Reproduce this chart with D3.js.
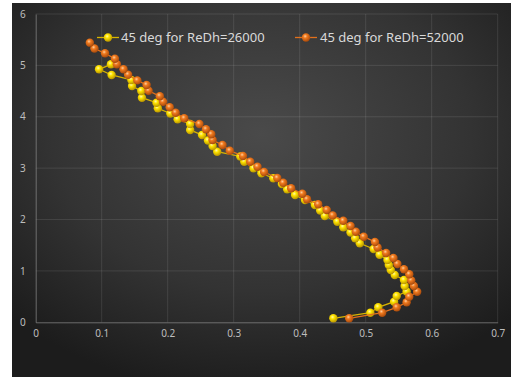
<!DOCTYPE html>
<html><head><meta charset="utf-8">
<script src="https://cdn.jsdelivr.net/npm/d3@7"></script>
<style>html,body{margin:0;padding:0;background:#fff;overflow:hidden}</style>
</head><body><svg id="c" width="511" height="377"></svg>
<script>
const seriesNames = ["45 deg for ReDh=26000", "45 deg for ReDh=52000"];
const xTicks = [0, 0.1, 0.2, 0.3, 0.4, 0.5, 0.6, 0.7];
const yTicks = [0, 1, 2, 3, 4, 5, 6];
const x26000 = [0.451,0.507,0.519,0.543,0.547,0.562,0.559,0.558,0.544,0.538,0.535,0.533,0.521,0.512,0.491,0.484,0.477,0.466,0.457,0.438,0.431,0.423,0.408,0.393,0.381,0.373,0.360,0.342,0.330,0.316,0.310,0.275,0.268,0.261,0.252,0.234,0.234,0.215,0.204,0.185,0.183,0.161,0.160,0.146,0.145,0.115,0.096,0.114];
const y26000 = [0.078,0.187,0.292,0.401,0.512,0.599,0.706,0.823,0.921,1.018,1.115,1.213,1.316,1.427,1.538,1.635,1.748,1.849,1.958,2.069,2.176,2.283,2.380,2.478,2.589,2.692,2.803,2.900,2.997,3.126,3.227,3.320,3.431,3.538,3.645,3.743,3.859,3.951,4.064,4.165,4.274,4.371,4.502,4.599,4.716,4.813,4.924,5.021];
const x52000 = [0.475,0.525,0.547,0.562,0.566,0.578,0.573,0.569,0.566,0.558,0.548,0.542,0.531,0.518,0.514,0.497,0.485,0.477,0.466,0.450,0.441,0.428,0.411,0.404,0.387,0.375,0.366,0.346,0.336,0.325,0.314,0.294,0.283,0.268,0.266,0.258,0.248,0.225,0.212,0.203,0.193,0.188,0.171,0.168,0.154,0.140,0.133,0.123,0.120,0.105,0.089,0.082];
const y52000 = [0.078,0.187,0.292,0.389,0.498,0.596,0.706,0.814,0.934,1.032,1.135,1.251,1.349,1.456,1.563,1.666,1.763,1.874,1.975,2.081,2.186,2.297,2.394,2.503,2.608,2.715,2.808,2.925,3.028,3.126,3.237,3.340,3.451,3.548,3.659,3.756,3.859,3.970,4.079,4.184,4.293,4.401,4.506,4.619,4.708,4.817,4.924,5.023,5.130,5.235,5.329,5.442];

const series = [
  {name: seriesNames[0], xs: x26000, ys: y26000, base: "#ffe400", dark: "#b89400", light: "#fff9b0", line: "#d8b400"},
  {name: seriesNames[1], xs: x52000, ys: y52000, base: "#f07a1e", dark: "#a84a0c", light: "#ffd0a0", line: "#e2701c"}
];

const svg = d3.select("#c");
const defs = svg.append("defs");
const bg = defs.append("radialGradient").attr("id","bg").attr("cx","50%").attr("cy","35%").attr("r","70%");
bg.append("stop").attr("offset","0%").attr("stop-color","#4a4a4a");
bg.append("stop").attr("offset","60%").attr("stop-color","#333333");
bg.append("stop").attr("offset","100%").attr("stop-color","#1c1c1c");
series.forEach((s,i)=>{
  const g = defs.append("radialGradient").attr("id","ball"+i).attr("cx","40%").attr("cy","35%").attr("r","65%");
  g.append("stop").attr("offset","0%").attr("stop-color",s.light);
  g.append("stop").attr("offset","35%").attr("stop-color",s.base);
  g.append("stop").attr("offset","100%").attr("stop-color",s.dark);
});

svg.append("rect").attr("x",12).attr("y",3).attr("width",499).attr("height",374).attr("fill","url(#bg)");

const x = d3.scaleLinear().domain([0,0.7]).range([35.7,497.7]);
const y = d3.scaleLinear().domain([0,6]).range([322.3,14]);

// grid
const grid = svg.append("g");
grid.selectAll(".gx").data(xTicks.slice(1)).join("line")
  .attr("x1",d=>x(d)).attr("x2",d=>x(d)).attr("y1",y(0)).attr("y2",y(6))
  .attr("stroke","#ffffff").attr("stroke-opacity",0.1).attr("stroke-width",1);
grid.selectAll(".gy").data(yTicks.slice(1)).join("line")
  .attr("x1",x(0)).attr("x2",x(0.7)).attr("y1",d=>y(d)).attr("y2",d=>y(d))
  .attr("stroke","#ffffff").attr("stroke-opacity",0.1).attr("stroke-width",1);

// axes
const xAxis = d3.axisBottom(x).tickValues(xTicks).tickFormat(d3.format("~g")).tickSize(0).tickPadding(8);
const gx = svg.append("g").attr("transform",`translate(0,${y(0)})`).call(xAxis);
gx.select(".domain").attr("stroke","#8a8a8a").attr("stroke-opacity",0.7);
gx.selectAll("text").attr("fill","#bdbdbd").style("font-family","'Noto Sans', sans-serif").style("font-size","10px");
const yAxis = d3.axisLeft(y).tickValues(yTicks).tickFormat(d3.format("d")).tickSize(0).tickPadding(10);
const gy = svg.append("g").attr("transform",`translate(${x(0)},0)`).call(yAxis);
gy.select(".domain").attr("stroke","#8a8a8a").attr("stroke-opacity",0.7);
gy.selectAll("text").attr("fill","#bdbdbd").style("font-family","'Noto Sans', sans-serif").style("font-size","10px");

// series
const line = d3.line().x(d=>x(d[0])).y(d=>y(d[1]));
series.forEach((s,i)=>{
  const pts = s.xs.map((v,k)=>[v,s.ys[k]]);
  const g = svg.append("g");
  g.append("path").attr("d",line(pts)).attr("fill","none").attr("stroke",s.line).attr("stroke-width",1.3);
  g.selectAll("circle").data(pts).join("circle")
    .attr("cx",d=>x(d[0])).attr("cy",d=>y(d[1])).attr("r",4.2)
    .attr("fill",`url(#ball${i})`);
});

// legend
const legendPos = [{lx:97, tx:121}, {lx:295, tx:320}];
series.forEach((s,i)=>{
  const p = legendPos[i];
  const ly = 37.5;
  const g = svg.append("g");
  g.append("line").attr("x1",p.lx).attr("x2",p.lx+22).attr("y1",ly).attr("y2",ly).attr("stroke",s.line).attr("stroke-width",1.3);
  g.append("circle").attr("cx",p.lx+11).attr("cy",ly).attr("r",4.2).attr("fill",`url(#ball${i})`);
  g.append("text").attr("x",p.tx).attr("y",ly).attr("dy","0.35em").text(s.name)
    .attr("fill","#d9d9d9").style("font-family","'Noto Sans', sans-serif").style("font-size","13px");
});
</script></body></html>
